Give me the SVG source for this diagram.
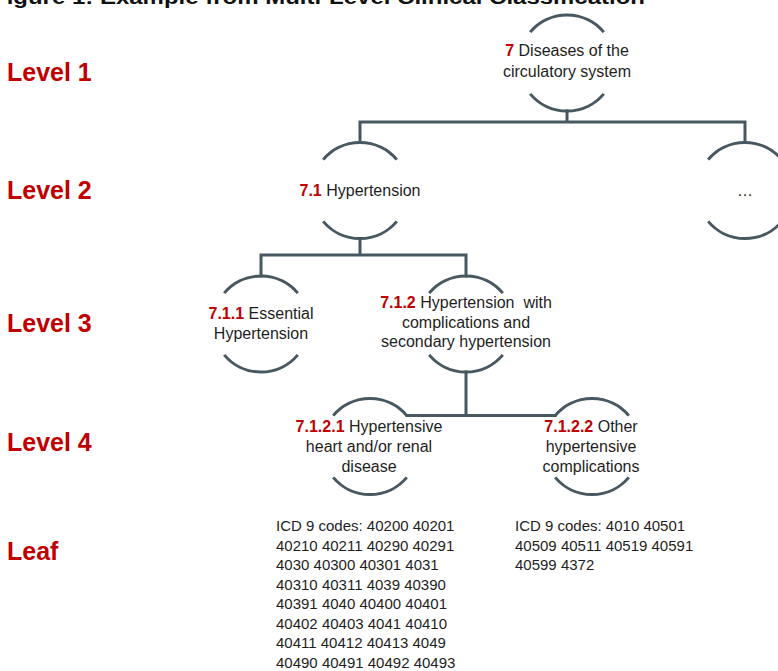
<svg xmlns="http://www.w3.org/2000/svg" xmlns:xlink="http://www.w3.org/1999/xlink" width="778" height="671" viewBox="0 0 778 671">
<style>
.ring path{fill:none;stroke:#475861;stroke-width:3;stroke-linecap:butt}
.conn{fill:none;stroke:#475861;stroke-width:3;stroke-linecap:square}
.lvl{font-family:"Liberation Sans",Arial,sans-serif;font-weight:bold;font-size:25px;fill:#C00000}
.t{font-family:"Liberation Sans",Arial,sans-serif;font-size:16px;fill:#1e1e1e;text-anchor:middle}
.n{font-weight:bold;fill:#C00000}
.leaf{font-family:"Liberation Sans",Arial,sans-serif;font-size:15px;fill:#1e1e1e}
.title{font-family:"Liberation Sans",Arial,sans-serif;font-weight:bold;font-size:21px;fill:#111}
</style>
<defs>
<g id="ring" class="ring">
<path d="M-36.8,-30.9 A48,48 0 0 1 36.8,-30.9"/>
<path d="M-36.8,30.9 A48,48 0 0 0 36.8,30.9"/>
</g>
</defs>
<rect width="778" height="671" fill="#fff"/>
<text class="title" x="-8" y="4" textLength="653" lengthAdjust="spacingAndGlyphs">Figure 1: Example from Multi-Level Clinical Classification</text>
<g id="levels">
<text class="lvl" x="7" y="81">Level 1</text>
<text class="lvl" x="7" y="199">Level 2</text>
<text class="lvl" x="7" y="332">Level 3</text>
<text class="lvl" x="7" y="451">Level 4</text>
<text class="lvl" x="7" y="560">Leaf</text>
</g>
<g id="connectors">
<path class="conn" d="M567,111 V122 M360,122 H745 M360,122 V142.5 M745,122 V142.5"/>
<path class="conn" d="M360,238.5 V255 M261,255 H466 M261,255 V276 M466,255 V276"/>
<path class="conn" d="M466,372 V415.5 M407,415.5 H555"/>
</g>
<g id="n7">
<use xlink:href="#ring" href="#ring" transform="translate(567,63)"/>
<text class="t" x="567" y="56"><tspan class="n">7</tspan> Diseases of the</text>
<text class="t" x="567" y="77">circulatory system</text>
</g>
<g id="n7_1">
<use xlink:href="#ring" href="#ring" transform="translate(360,190.5)"/>
<text class="t" x="360" y="196"><tspan class="n">7.1</tspan> Hypertension</text>
</g>
<g id="n_more">
<use xlink:href="#ring" href="#ring" transform="translate(745,190.5)"/>
<text class="t" x="745" y="196">…</text>
</g>
<g id="n7_1_1">
<use xlink:href="#ring" href="#ring" transform="translate(261,324)"/>
<text class="t" x="261" y="319"><tspan class="n">7.1.1</tspan> Essential</text>
<text class="t" x="261" y="339">Hypertension</text>
</g>
<g id="n7_1_2">
<use xlink:href="#ring" href="#ring" transform="translate(466,324)"/>
<text class="t" x="466" y="308"><tspan class="n">7.1.2</tspan> Hypertension&#160; with</text>
<text class="t" x="466" y="328">complications and</text>
<text class="t" x="466" y="347">secondary hypertension</text>
</g>
<g id="n7_1_2_1">
<use xlink:href="#ring" href="#ring" transform="translate(370,446.5)"/>
<text class="t" x="369" y="432"><tspan class="n">7.1.2.1</tspan> Hypertensive</text>
<text class="t" x="369" y="452">heart and/or renal</text>
<text class="t" x="369" y="472">disease</text>
</g>
<g id="n7_1_2_2">
<use xlink:href="#ring" href="#ring" transform="translate(592,446.5)"/>
<text class="t" x="591" y="432"><tspan class="n">7.1.2.2</tspan> Other</text>
<text class="t" x="591" y="452">hypertensive</text>
<text class="t" x="591" y="472">complications</text>
</g>
<g id="leaf1">
<text class="leaf" x="276" y="531">ICD 9 codes: 40200 40201</text>
<text class="leaf" x="276" y="550.6">40210 40211 40290 40291</text>
<text class="leaf" x="276" y="570.1">4030 40300 40301 4031</text>
<text class="leaf" x="276" y="589.7">40310 40311 4039 40390</text>
<text class="leaf" x="276" y="609.3">40391 4040 40400 40401</text>
<text class="leaf" x="276" y="628.9">40402 40403 4041 40410</text>
<text class="leaf" x="276" y="648.4">40411 40412 40413 4049</text>
<text class="leaf" x="276" y="668">40490 40491 40492 40493</text>
</g>
<g id="leaf2">
<text class="leaf" x="515" y="531">ICD 9 codes: 4010 40501</text>
<text class="leaf" x="515" y="550.6">40509 40511 40519 40591</text>
<text class="leaf" x="515" y="570.1">40599 4372</text>
</g>
</svg>
